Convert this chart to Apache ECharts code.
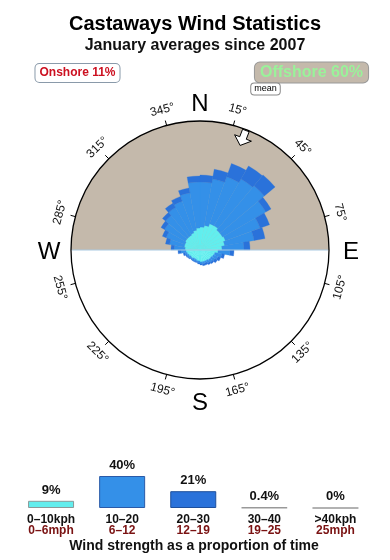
<!DOCTYPE html>
<html><head><meta charset="utf-8">
<script src="https://cdn.jsdelivr.net/npm/echarts@6/dist/echarts.min.js"></script>
<style>html,body{margin:0;padding:0;background:#fff}#c{width:390px;height:560px}</style>
</head><body><div id="c"></div>
<script>
// ---- data ----
const titleText = 'Castaways Wind Statistics';
const subtitleText = 'January averages since 2007';
const onshoreText = 'Onshore 11%';
const offshoreText = 'Offshore 60%';
// 36 direction sectors (compass degrees, start of each 10° bin)
const sectorStarts = ['0','10','20','30','40','50','60','70','80','90','100','110','120','130','140','150','160','170',
  '180','190','200','210','220','230','240','250','260','270','280','290','300','310','320','330','340','350'];
// cumulative radial extent of each speed class per sector (rose radial units, circle = 129)
const rose0_10  = [23,25,28,28,26,26,27,25,22,18,15,14,13,13,12,12,12,12,11,11,10,10,11,11,12,13,14,15,16,16,17,17,17,18,20,22];
const rose10_20 = [68,72,78,82,84,76,64,55,44,30,22,19,17,16,15,14,14,14,13,12,12,12,12,13,14,15,19,26,31,36,41,45,49,52,58,68];
const rose20_30 = [75,82,92,97,98,82,74,66,50,34,25,22,20,18,17,16,16,15,14,13,13,13,13,14,15,17,22,29,35,40,45,49,54,57,63,74];
const roseMax = 129;
const tickAngles = [15,45,75,105,135,165,195,225,255,285,315,345];
const compass = [['N',0],['E',90],['S',180],['W',270]];
const meanDirection = 21;
// speed class summary
const kphLabels = ['0\u201310kph','10\u201320','20\u201330','30\u201340','>40kph'];
const mphLabels = ['0\u20136mph','6\u201312','12\u201319','19\u201325','25mph'];
const classPercent = [9,40,21,0.4,0];
const classPercentText = ['9%','40%','21%','0.4%','0%'];
const footerText = 'Wind strength as a proportion of time';

// ---- styles ----
const FONT = '"Liberation Sans", Arial, Helvetica, sans-serif';
const C_CYAN = '#62eeee', C_BLUE = '#3490e8', C_DARK = '#2a72da', C_TAN = '#c4b9ab';
const CX = 200, CY = 250, R = 129;

const chart = echarts.init(document.getElementById('c'), null, {renderer:'canvas'});

const graphics = [];
graphics.push({type:'sector', z:0, shape:{cx:CX, cy:CY, r:R, r0:0, startAngle:Math.PI, endAngle:Math.PI*2}, style:{fill:C_TAN}});
graphics.push({type:'line', z:5, shape:{x1:CX-R+1, y1:CY, x2:CX+R-1, y2:CY}, style:{stroke:'#a9c9e2', lineWidth:1.2}});
graphics.push({type:'circle', z:6, shape:{cx:CX, cy:CY, r:R}, style:{fill:null, stroke:'#000', lineWidth:1.3}});
tickAngles.forEach(a => {
  const t = a*Math.PI/180, s = Math.sin(t), c = Math.cos(t);
  graphics.push({type:'line', z:6, shape:{x1:CX+R*s, y1:CY-R*c, x2:CX+(R+5)*s, y2:CY-(R+5)*c}, style:{stroke:'#000', lineWidth:1}});
  const rot = (a>90 && a<270) ? -(a-180) : -a;
  graphics.push({type:'text', z:6, x:CX+145*s, y:CY-145*c, rotation:rot*Math.PI/180,
    style:{text:a+'\u00b0', font:'12px '+FONT, fill:'#111', align:'center', verticalAlign:'middle'}});
});
compass.forEach(([l,a]) => {
  const t = a*Math.PI/180;
  const rr = (a===0) ? 148 : 151;
  graphics.push({type:'text', z:6, x:CX+rr*Math.sin(t), y:CY-rr*Math.cos(t)+2,
    style:{text:l, font:'24px '+FONT, fill:'#000', align:'center', verticalAlign:'middle'}});
});
(function(){
  const t = meanDirection*Math.PI/180;
  const pts = [[0,112],[-9,120],[-3.5,120],[-3.5,128],[3.5,128],[3.5,120],[9,120]];
  const s = Math.sin(t), c = Math.cos(t);
  const P = pts.map(([u,r]) => [CX + r*s + u*c, CY - r*c + u*s]);
  graphics.push({type:'polygon', z:7, shape:{points:P}, style:{fill:'#fff', stroke:'#000', lineWidth:1}});
})();
graphics.push({type:'text', z:8, x:77.5, y:73, style:{text:onshoreText, font:'bold 12px '+FONT, fill:'#cc1020', align:'center', verticalAlign:'middle',
  backgroundColor:'#fff', borderColor:'#8a9aaa', borderWidth:1, borderRadius:4, padding:[3,4,3,4]}});
graphics.push({type:'text', z:8, x:311.5, y:72.5, style:{text:offshoreText, font:'bold 16px '+FONT, fill:'#9af29a', align:'center', verticalAlign:'middle',
  backgroundColor:C_TAN, borderColor:'#999', borderWidth:1, borderRadius:5, padding:[2,5,2,5]}});
graphics.push({type:'text', z:9, x:265.5, y:89, style:{text:'mean', font:'9px '+FONT, fill:'#000', align:'center', verticalAlign:'middle',
  backgroundColor:'#fff', borderColor:'#888', borderWidth:1, borderRadius:3, padding:[1,3,1,3]}});
graphics.push({type:'text', z:8, x:194, y:546, style:{text:footerText, font:'bold 14px '+FONT, fill:'#111', align:'center', verticalAlign:'middle'}});

// stacked bands: each ring's thickness from the cumulative extents
const band1 = rose0_10.slice();
const band2 = rose10_20.map((v,i)=>v-rose0_10[i]);
const band3 = rose20_30.map((v,i)=>v-rose10_20[i]);
const roseSeries = (name, data, color) => ({
  name, type:'bar', coordinateSystem:'polar', stack:'rose', data, barCategoryGap:'0%',
  itemStyle:{color, borderColor:color, borderWidth:0.3}, silent:true
});

const option = {
  animation:false,
  title:[
    {text:titleText, left:'center', top:9, textStyle:{fontFamily:FONT, fontSize:20, fontWeight:'bold', color:'#000'}},
    {text:subtitleText, left:'center', top:33, textStyle:{fontFamily:FONT, fontSize:16, fontWeight:'bold', color:'#111'}}
  ],
  polar:{center:[CX,CY], radius:R},
  angleAxis:{type:'category', data:sectorStarts, startAngle:90, clockwise:true, show:false},
  radiusAxis:{type:'value', min:0, max:roseMax, show:false},
  grid:{left:15.5, right:19, top:458, bottom:52},
  xAxis:{type:'category', data:kphLabels, axisLine:{show:false}, axisTick:{show:false},
    axisLabel:{margin:6, interval:0, formatter:(v,i)=>'{a|'+kphLabels[i]+'}\n{b|'+mphLabels[i]+'}',
      rich:{a:{fontFamily:FONT, fontSize:12, fontWeight:'bold', color:'#111', lineHeight:11},
            b:{fontFamily:FONT, fontSize:12, fontWeight:'bold', color:'#7a1212', lineHeight:11}}}},
  yAxis:{type:'value', min:0, max:62.5, show:false},
  series:[
    roseSeries('0-10', band1, C_CYAN),
    roseSeries('10-20', band2, C_BLUE),
    roseSeries('20-30', band3, C_DARK),
    {type:'bar', data:classPercent.map((v,i)=>({value:v, itemStyle:{
        color:[C_CYAN,C_BLUE,C_DARK,'#999','#999'][i],
        borderColor:['#8a9a9a','#2a5aa8','#1e4f9c','#999','#999'][i], borderWidth:i>2?1.5:1}})),
      barWidth:46, silent:true,
      label:{show:true, position:'top', distance:4, formatter:p=>classPercentText[p.dataIndex],
        fontFamily:FONT, fontSize:13, fontWeight:'bold', color:'#111'}}
  ],
  graphic:graphics
};
chart.setOption(option);
</script></body></html>
